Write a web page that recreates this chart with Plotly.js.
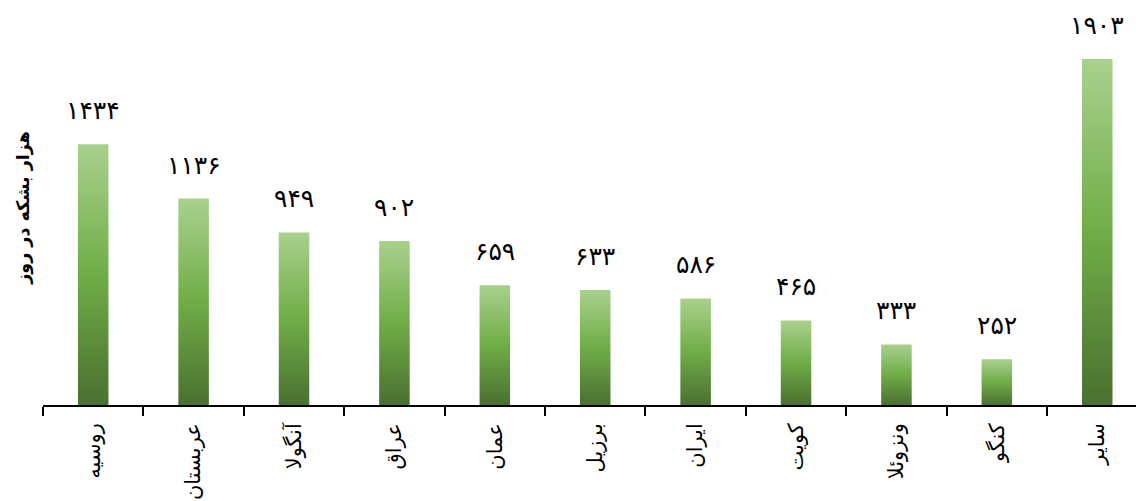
<!DOCTYPE html>
<html>
<head>
<meta charset="utf-8">
<script src="https://cdn.plot.ly/plotly-3.0.1.min.js"></script>
<style>html,body{margin:0;padding:0;background:#fff;}#chart{width:1136px;height:501px;}</style>
</head>
<body>
<div id="chart"></div>
<script>
// Data
const categories = ['روسیه', 'عربستان', 'آنگولا', 'عراق', 'عمان', 'برزیل', 'ایران', 'کویت', 'ونزوئلا', 'کنگو', 'سایر'];
const values = [1434, 1136, 949, 902, 659, 633, 586, 465, 333, 252, 1903];
const yTitle = 'هزار بشکه در روز';

const toFa = n => String(n).replace(/\d/g, d => '۰۱۲۳۴۵۶۷۸۹'[d]);

const FONT = 'DejaVu Sans, Noto Sans, sans-serif';
const half = 0.152;
const grad = [[0, '#4a7030'], [0.5, '#70ad47'], [1, '#a9d18e']];

const traces = values.map((v, i) => ({
  type: 'scatter',
  mode: 'none',
  x: [i - half, i - half, i + half, i + half, i - half],
  y: [0, v, v, 0, 0],
  fill: 'toself',
  fillgradient: {type: 'vertical', colorscale: grad},
  hoverinfo: 'skip',
  showlegend: false,
  xaxis: 'x',
  yaxis: 'y'
}));

// invisible carrier trace for category labels axis
traces.push({
  type: 'scatter', mode: 'none', x: categories.map((c, i) => i), y: values,
  xaxis: 'x2', yaxis: 'y', showlegend: false, hoverinfo: 'skip'
});

const annotations = values.map((v, i) => ({
  x: i, y: v, xref: 'x', yref: 'y',
  text: toFa(v), showarrow: false,
  yanchor: 'bottom', yshift: 17,
  font: {family: FONT, size: 25, color: '#000'}
}));

const boundaries = categories.map((c, i) => i - 0.5);
const xRange = [-0.5, 10.386];

const layout = {
  width: 1136, height: 501,
  margin: {l: 43, r: 0, t: 10, b: 96},
  paper_bgcolor: '#fff', plot_bgcolor: '#fff',
  showlegend: false,
  xaxis: {
    type: 'linear', range: xRange, tickmode: 'array', tickvals: boundaries,
    showticklabels: false, ticks: 'outside', ticklen: 9, tickwidth: 2, tickcolor: '#000',
    showline: true, linecolor: '#000', linewidth: 2, showgrid: false, zeroline: false,
    fixedrange: true
  },
  xaxis2: {
    type: 'linear', range: xRange, overlaying: 'x', anchor: 'y', side: 'bottom',
    tickmode: 'array', tickvals: categories.map((c, i) => i), ticktext: categories,
    ticks: '', tickangle: -90, ticklabelstandoff: 13,
    tickfont: {family: FONT, size: 21, color: '#000'},
    showline: false, showgrid: false, zeroline: false, fixedrange: true
  },
  yaxis: {
    range: [0, 2173], showline: false, showgrid: false, zeroline: false,
    showticklabels: false, ticks: '',
    title: {text: '<b>' + yTitle + '</b>', font: {family: FONT, size: 17.5, color: '#000'}, standoff: 7},
    fixedrange: true
  },
  annotations: annotations
};

Plotly.newPlot('chart', traces, layout, {displayModeBar: false, staticPlot: true});
</script>
</body>
</html>
